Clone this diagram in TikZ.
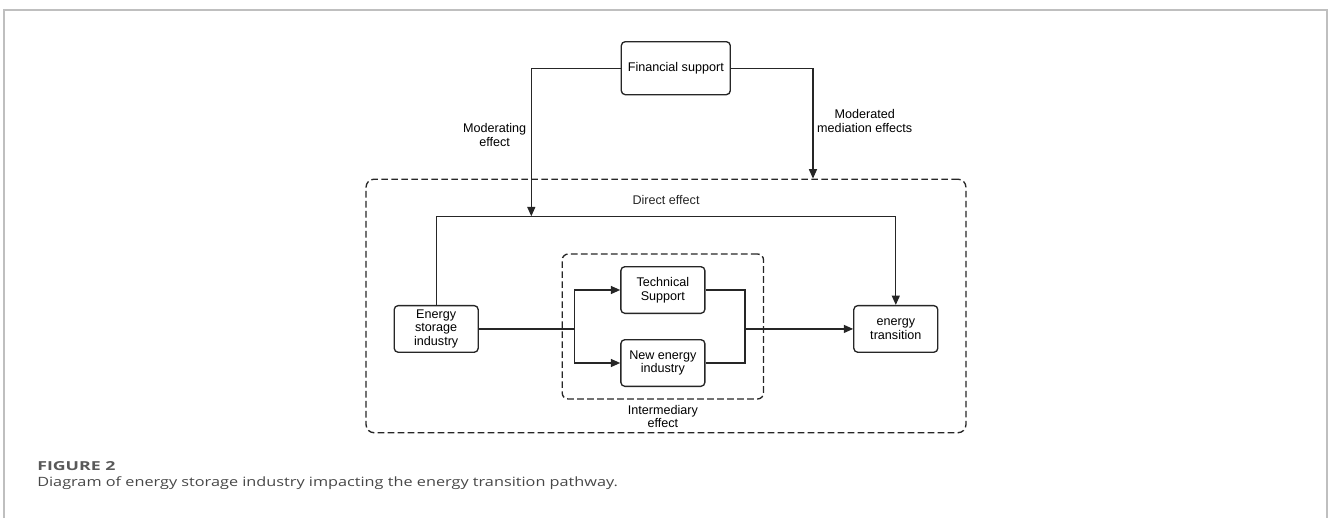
\documentclass[tikz,border=0pt]{standalone}
\usepackage{xcolor, amsmath, fontspec}
\usetikzlibrary{positioning, fit, arrows.meta}
\setmainfont{Liberation Sans}
\newfontfamily\captionfont[FakeStretch=1.27]{Open Sans}
\newfontfamily\figlabelfont[FakeStretch=1.43]{Open Sans}

\begin{document}
\begin{tikzpicture}[font=\fontsize{9.45pt}{10.3pt}\selectfont]
    \newlength\hpad
    \newlength\vpad
    \newlength\boxw
    \setlength\hpad{106pt}
    \setlength\vpad{18.75pt}
    \setlength\boxw{63pt}
    \colorlet{frame-grey}{black!25}
    \colorlet{ink}{black!85}
    \tikzset{
        arrow/.style={-{Triangle[length=7pt, width=6pt]}},
        dashframe/.style={draw=ink, line width=1pt, dash pattern=on 5pt off 2.5pt, inner sep=0pt},
        lbl/.style={inner sep=0pt, align=center},
    }

    % PAGE
    \useasboundingbox (0,0) rectangle (996pt,-388.5pt);
    \draw[frame-grey, line width=1pt] (3pt,-388.5pt) -- (3pt,-7.5pt) -- (995.25pt,-7.5pt) -- (995.25pt,-388.5pt);

    \begin{scope}[every node/.append style={draw=ink, rounded corners=3pt, align=center,
                  minimum width=\boxw, minimum height=35pt, inner sep=1pt, line width=1pt}]
        % SOURCE
        \node (esi) at (327.15pt,-246.7pt) {Energy\\storage\\industry};

        % MEDIATORS
        \node [right = \hpad of esi, yshift=29.2pt] (tech) {Technical\\Support};
        \node [below = \vpad of tech] (newind) {New energy\\industry};

        % OUTCOME
        \node [right = 280.7pt of esi] (trans) {energy\\transition};

        % MODERATOR
        \node [above = 128pt of tech, xshift=9.7pt, minimum width=81.75pt,
               minimum height=39.75pt] (fin) {Financial support};
    \end{scope}

    \coordinate [above = 66.5pt of esi.north] (dtop);
    \coordinate [left = 67pt of fin.west] (modx);
    \coordinate [right = 61.5pt of fin.east] (medx);
    \coordinate (split) at ([xshift=-34.5pt]tech.west |- esi.east);
    \coordinate (merge) at ([xshift=29.5pt]tech.east |- trans.west);

    % INTERMEDIARY FRAME
    \node [dashframe, rounded corners=4.5pt, fit=(tech)(newind),
           inner xsep=43.5pt, inner ysep=9pt] (inner) {};
    \node [lbl, below = 3.75pt of inner] (interlbl) {Intermediary\\effect};

    % OUTER FRAME
    \node [dashframe, rounded corners=6pt, fit=(esi)(trans)(dtop)(inner),
           inner xsep=20.6pt, inner ysep=26.3pt, yshift=1.5pt] (outer) {};

    % Moderator labels
    \node [lbl, below left = 41.3pt and 3.7pt of modx] (modlbl) {Moderating\\effect};
    \node [lbl, below right = 30.6pt and 3pt of medx] (medlbl) {Moderated\\mediation effects};

    \begin{scope}[ink, line width=1pt]
        % Direct path
        \draw[arrow] (esi.north) -- (dtop) -| node[lbl, pos=0.25, above=7.9pt] (dirlbl) {Direct effect} (trans.north);

        % Mediating paths
        \draw (esi.east) -- (split);
        \foreach \med in {tech, newind} {
            \draw[arrow] (split) |- (\med.west);
            \draw (\med.east) -| (merge);
        }
        \draw[arrow] (merge) -- (trans.west);

        % Moderating paths
        \draw[arrow] (fin.west) -| (modx |- dtop);
        \draw[arrow] (fin.east) -| (medx |- outer.north);
    \end{scope}

    % CAPTION
    \node [lbl, anchor=base west, text=black!65] (figno) at (27.75pt,-353pt)
        {\figlabelfont\fontsize{9.3pt}{10pt}\selectfont\bfseries FIGURE 2};
    \node [lbl, anchor=base west, text=black!72] (figcap) at (27.75pt,-364.5pt)
        {\captionfont\fontsize{9.6pt}{10pt}\selectfont Diagram of energy storage industry impacting the energy transition pathway.};
\end{tikzpicture}
\end{document}
